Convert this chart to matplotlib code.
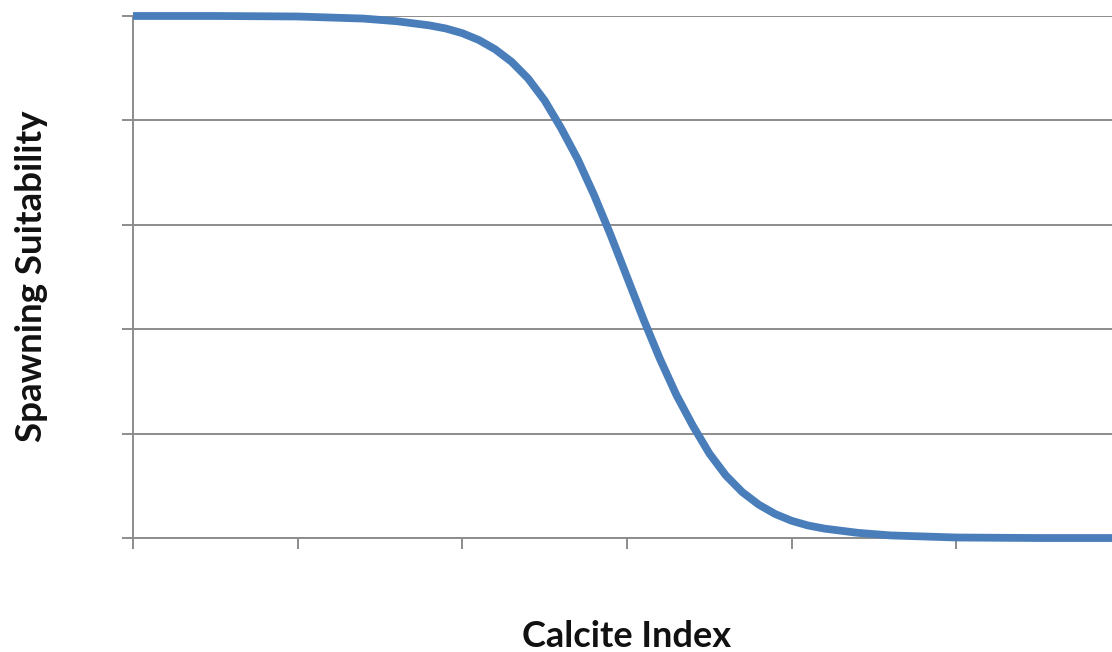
import numpy as np
import matplotlib
matplotlib.use("Agg")
import matplotlib.pyplot as plt

# Calcite index vs spawning suitability
calcite = [0.0, 0.5, 1.0, 1.4, 1.6, 1.8, 1.9, 2.0, 2.1, 2.2, 2.3, 2.4, 2.5, 2.6, 2.7,
           2.8, 2.9, 3.0, 3.1, 3.2, 3.3, 3.4, 3.5, 3.6, 3.7, 3.8, 3.9, 4.0,
           4.1, 4.2, 4.4, 4.6, 4.8, 5.0, 5.5, 6.0]
suitability = [1.000, 1.000, 0.999, 0.995, 0.990, 0.982, 0.976, 0.967, 0.954, 0.936,
               0.912, 0.880, 0.838, 0.785, 0.726, 0.657, 0.581, 0.500, 0.419, 0.343,
               0.274, 0.215, 0.162, 0.120, 0.088, 0.064, 0.046, 0.033, 0.024, 0.018,
               0.010, 0.005, 0.003, 0.001, 0.000, 0.000]

x_ticks = [0, 1, 2, 3, 4, 5, 6]
y_ticks = [0, 0.2, 0.4, 0.6, 0.8, 1.0]

plt.rcParams['font.family'] = ['Lato', 'DejaVu Sans']

fig = plt.figure(figsize=(11.12, 6.52), dpi=100)
ax = fig.add_axes([0.1196, 0.1748, 0.8885, 0.8007])

ax.plot(calcite, suitability, color='#4a7ebb', linewidth=5.6,
        solid_capstyle='butt', solid_joinstyle='round', zorder=3, clip_on=False)

ax.set_xlim(0, 6)
ax.set_ylim(0, 1)
ax.set_xticks(x_ticks)
ax.set_yticks(y_ticks)
ax.set_xticklabels([])
ax.set_yticklabels([])
ax.grid(axis='y', color='#8c8c8c', linewidth=1.4)
ax.set_axisbelow(True)

for side in ['top', 'right']:
    ax.spines[side].set_visible(False)
for side in ['left', 'bottom']:
    ax.spines[side].set_color('#8c8c8c')
    ax.spines[side].set_linewidth(1.4)
ax.tick_params(axis='both', direction='out', length=8, width=1.4, color='#8c8c8c')

fig.text(0.5635, 0.0245, 'Calcite Index', ha='center', va='center',
         fontsize=26, fontweight='bold', color='#111111')
fig.text(0.028, 0.576, 'Spawning Suitability', ha='center', va='center',
         rotation=90, fontsize=26.5, fontweight='bold', color='#111111')

fig.savefig('out.png', dpi=100)
